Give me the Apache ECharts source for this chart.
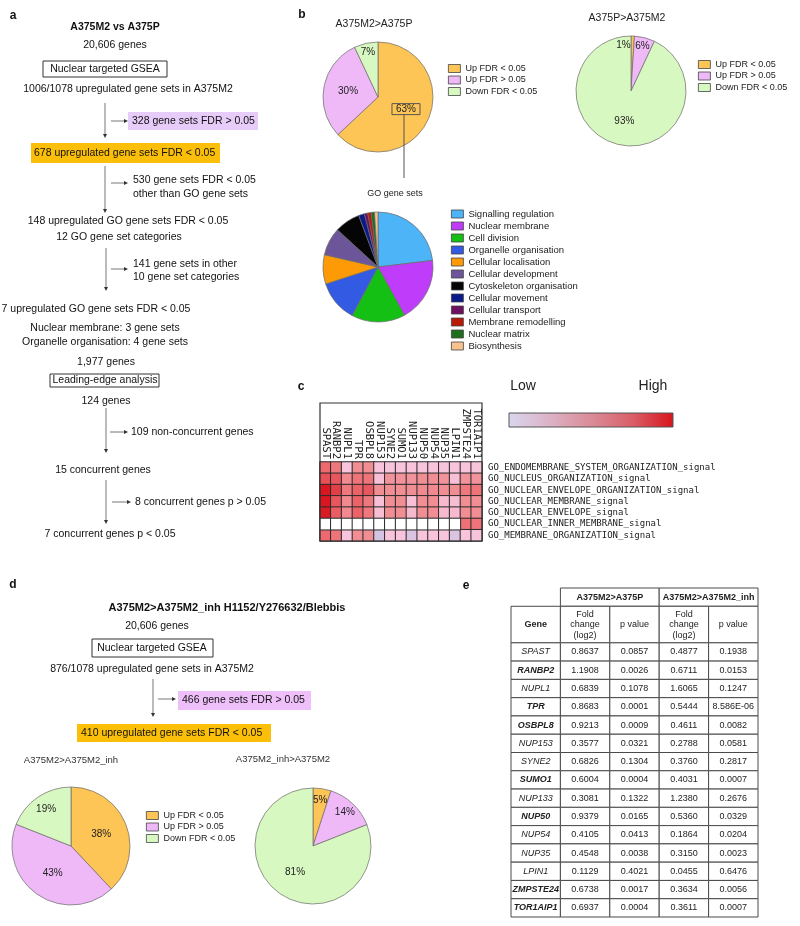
<!DOCTYPE html>
<html><head><meta charset="utf-8">
<script src="https://cdn.jsdelivr.net/npm/echarts@6/dist/echarts.min.js"></script>
<style>html,body{margin:0;padding:0;background:#fff}#c{width:800px;height:926px}</style>
</head><body><div id="c"></div>
<script>
const FONT = '"Liberation Sans", Arial, sans-serif';
const MONO = '"DejaVu Sans Mono", monospace';

// ---------- data ----------
const fdrNames = ['Up FDR < 0.05', 'Up FDR > 0.05', 'Down FDR < 0.05'];
const fdrColors = ['#fdc456', '#efb9f8', '#d8f8c1'];
const b1Values = [63, 30, 7];     // A375M2>A375P
const b2Values = [1, 6, 93];      // A375P>A375M2
const d1Values = [38, 43, 19];    // A375M2>A375M2_inh
const d2Values = [5, 14, 81];     // A375M2_inh>A375M2

const goNames = ['Signalling regulation', 'Nuclear membrane', 'Cell division', 'Organelle organisation',
  'Cellular localisation', 'Cellular development', 'Cytoskeleton organisation', 'Cellular movement',
  'Cellular transport', 'Membrane remodelling', 'Nuclear matrix', 'Biosynthesis'];
const goValues = [23.1, 18.9, 15.8, 12.2, 8.6, 8.2, 7.5, 1.7, 1, 1, 1, 1];
const goColors = ['#4db4f7', '#c03cfb', '#14c014', '#335ae2', '#fd9a06', '#6c5699', '#050505',
  '#0a1a8a', '#6e1060', '#b81a06', '#1d6e1d', '#f8c28f'];

const hmGenes = ['SPAST', 'RANBP2', 'NUPL1', 'TPR', 'OSBPL8', 'NUP153', 'SYNE2', 'SUMO1', 'NUP133',
  'NUP50', 'NUP54', 'NUP35', 'LPIN1', 'ZMPSTE24', 'TOR1AIP1'];
const hmSets = ['GO_ENDOMEMBRANE_SYSTEM_ORGANIZATION_signal', 'GO_NUCLEUS_ORGANIZATION_signal',
  'GO_NUCLEAR_ENVELOPE_ORGANIZATION_signal', 'GO_NUCLEAR_MEMBRANE_signal', 'GO_NUCLEAR_ENVELOPE_signal',
  'GO_NUCLEAR_INNER_MEMBRANE_signal', 'GO_MEMBRANE_ORGANIZATION_signal'];
const hmValues = [
  [0.70, 0.62, 0.25, 0.50, 0.50, 0.25, 0.25, 0.25, 0.25, 0.25, 0.25, 0.25, 0.25, 0.25, 0.25],
  [0.80, 0.78, 0.52, 0.64, 0.64, 0.27, 0.48, 0.48, 0.48, 0.50, 0.50, 0.48, 0.27, 0.48, 0.48],
  [0.98, 0.86, 0.62, 0.74, 0.78, 0.50, 0.50, 0.50, 0.50, 0.52, 0.52, 0.50, 0.50, 0.62, 0.64],
  [0.98, 0.78, 0.52, 0.74, 0.62, 0.27, 0.50, 0.50, 0.27, 0.50, 0.50, 0.30, 0.28, 0.50, 0.50],
  [0.97, 0.76, 0.52, 0.74, 0.62, 0.28, 0.50, 0.50, 0.30, 0.50, 0.50, 0.30, 0.30, 0.50, 0.50],
  [null, null, null, null, null, null, null, null, null, null, null, null, null, 0.66, 0.64],
  [0.70, 0.64, 0.25, 0.50, 0.50, 0.05, 0.25, 0.25, 0.10, 0.25, 0.25, 0.25, 0.10, 0.25, 0.25]
];

const tblGenes = ['SPAST', 'RANBP2', 'NUPL1', 'TPR', 'OSBPL8', 'NUP153', 'SYNE2', 'SUMO1', 'NUP133',
  'NUP50', 'NUP54', 'NUP35', 'LPIN1', 'ZMPSTE24', 'TOR1AIP1'];
const tblBold = ['RANBP2', 'TPR', 'OSBPL8', 'SUMO1', 'NUP50', 'ZMPSTE24', 'TOR1AIP1'];
const fcP = ['0.8637', '1.1908', '0.6839', '0.8683', '0.9213', '0.3577', '0.6826', '0.6004', '0.3081',
  '0.9379', '0.4105', '0.4548', '0.1129', '0.6738', '0.6937'];
const pvP = ['0.0857', '0.0026', '0.1078', '0.0001', '0.0009', '0.0321', '0.1304', '0.0004', '0.1322',
  '0.0165', '0.0413', '0.0038', '0.4021', '0.0017', '0.0004'];
const fcI = ['0.4877', '0.6711', '1.6065', '0.5444', '0.4611', '0.2788', '0.3760', '0.4031', '1.2380',
  '0.5360', '0.1864', '0.3150', '0.0455', '0.3634', '0.3611'];
const pvI = ['0.1938', '0.0153', '0.1247', '8.586E-06', '0.0082', '0.0581', '0.2817', '0.0007', '0.2676',
  '0.0329', '0.0204', '0.0023', '0.6476', '0.0056', '0.0007'];
const tblGroups = ['A375M2>A375P', 'A375M2>A375M2_inh'];
const tblSub = ['Gene', 'Fold\nchange\n(log2)', 'p value', 'Fold\nchange\n(log2)', 'p value'];

// ---------- pies ----------
const series = [];
const overlays = [];
function addPie(center, r, values, names, colors, outer, ringFrac, showLabels, special, pads) {
  pads = pads || {};
  series.push({
    type: 'pie', center: center, radius: r, startAngle: 90, clockwise: true,
    animation: false, silent: true, avoidLabelOverlap: false,
    label: { show: showLabels, position: 'inside', formatter: '{c}%', fontSize: 10, color: '#222', fontFamily: FONT },
    labelLine: { show: false },
    labelLayout: { hideOverlap: false },
    itemStyle: { borderColor: '#6a6a6a', borderWidth: 0.7 },
    emphasis: { disabled: true },
    data: values.map((v, i) => {
      const it = { name: names[i], value: v, itemStyle: { color: colors[i] } };
      if (showLabels) {
        it.label = { show: outer.indexOf(i) < 0 };
        if (special === i) {
          Object.assign(it.label, { borderColor: '#555', borderWidth: 1, padding: [1, 4, 0, 4] });
        }
      }
      return it;
    })
  });
  if (showLabels && outer.length) {
    overlays.push({
      type: 'pie', center: center, radius: [r * ringFrac, r], startAngle: 90, clockwise: true,
      animation: false, silent: true, legendHoverLink: false, avoidLabelOverlap: false,
      minShowLabelAngle: 0,
      label: { show: true, position: 'inside', formatter: '{c}%', fontSize: 10, color: '#222', fontFamily: FONT },
      labelLine: { show: false },
      labelLayout: { hideOverlap: false },
      itemStyle: { color: 'rgba(0,0,0,0)', borderWidth: 0 },
      emphasis: { disabled: true },
      data: values.map((v, i) => {
        const lab = { show: outer.indexOf(i) >= 0 };
        if (pads[i]) lab.padding = pads[i];
        return { name: names[i], value: v, label: lab };
      })
    });
  }
}
addPie([378, 97], 55, b1Values, fdrNames, fdrColors, [2], 0.56, true, 0);
addPie([631, 91], 55, b2Values, fdrNames, fdrColors, [0, 1], 0.56, true, -1, { 0: [0, 18, 0, 0] });
addPie([378, 267], 55, goValues, goNames, goColors, [], 0, false, -1);
addPie([71, 846], 59, d1Values, fdrNames, fdrColors, [2], 0.4, true, -1);
addPie([313, 846], 58, d2Values, fdrNames, fdrColors, [0, 1], 0.5, true, -1);

// ---------- heatmap ----------
const hmData = [], hmMissing = [];
hmValues.forEach((row, y) => row.forEach((v, x) => {
  if (v === null) hmMissing.push([x, y, 0]); else hmData.push([x, y, v]);
}));
const hmIndex = series.length;
series.push({
  type: 'heatmap', xAxisIndex: 0, yAxisIndex: 0, data: hmData, animation: false, silent: true,
  itemStyle: { borderColor: '#2a2a2a', borderWidth: 1 }
});
series.push({
  type: 'heatmap', xAxisIndex: 0, yAxisIndex: 0, data: hmMissing, animation: false, silent: true,
  itemStyle: { color: '#ffffff', borderColor: '#2a2a2a', borderWidth: 1 }
});

// ---------- table ----------
const cells = [];
cells.push({ c: [1, 3, 0, 1], t: tblGroups[0], w: 'bold', s: 'normal' });
cells.push({ c: [3, 5, 0, 1], t: tblGroups[1], w: 'bold', s: 'normal' });
tblSub.forEach((t, i) => cells.push({ c: [i, i + 1, 1, 3], t: t, w: i === 0 ? 'bold' : 'normal', s: 'normal' }));
tblGenes.forEach((g, r) => {
  const row = r + 3;
  const b = tblBold.indexOf(g) >= 0;
  cells.push({ c: [0, 1, row, row + 1], t: g, w: b ? 'bold' : 'normal', s: 'italic' });
  [fcP[r], pvP[r], fcI[r], pvI[r]].forEach((t, j) =>
    cells.push({ c: [j + 1, j + 2, row, row + 1], t: t, w: 'normal', s: 'normal' }));
});
series.push({
  type: 'custom', xAxisIndex: 1, yAxisIndex: 1, animation: false, silent: true,
  encode: { x: [0, 1], y: [2, 3] },
  data: cells.map(c => c.c),
  renderItem: function (params, api) {
    const cell = cells[params.dataIndex];
    const p0 = api.coord([api.value(0), api.value(2)]);
    const p1 = api.coord([api.value(1), api.value(3)]);
    const font = cell.s + ' ' + cell.w + ' 9px ' + FONT;
    return {
      type: 'group', children: [
        { type: 'rect', shape: { x: p0[0], y: p0[1], width: p1[0] - p0[0], height: p1[1] - p0[1] },
          style: { fill: '#fff', stroke: '#4a4a4a', lineWidth: 1 } },
        { type: 'text', style: { text: cell.t, x: (p0[0] + p1[0]) / 2, y: (p0[1] + p1[1]) / 2,
          align: 'center', verticalAlign: 'middle', textAlign: 'center', textVerticalAlign: 'middle',
          font: font, fill: '#222', lineHeight: 10.5 } }
      ]
    };
  }
});

series.push(...overlays);

// ---------- graphic (flowcharts / annotations) ----------
const G = [];
const TXT = '#111';
function txt(x, y, text, opt) {
  opt = opt || {};
  const size = opt.size || 10.5;
  const weight = opt.bold ? 'bold ' : '';
  G.push({ type: 'text', x: x, y: y, z: 100, silent: true, style: {
    text: text, fill: opt.color || TXT, font: weight + size + 'px ' + (opt.family || FONT),
    align: opt.align || 'center', textAlign: opt.align || 'center',
    verticalAlign: 'middle', textVerticalAlign: 'middle' } });
}
function box(x, y, w, h, fill, stroke) {
  G.push({ type: 'rect', z: 90, silent: true, shape: { x: x, y: y, width: w, height: h },
    style: { fill: fill || 'none', stroke: stroke || null, lineWidth: 1 } });
}
function line(x1, y1, x2, y2, color) {
  G.push({ type: 'line', z: 95, silent: true, shape: { x1: x1, y1: y1, x2: x2, y2: y2 },
    style: { stroke: color || '#777', lineWidth: 1 } });
}
function arrowV(x, y1, y2) {
  line(x, y1, x, y2 - 3);
  G.push({ type: 'polygon', z: 95, silent: true, shape: { points: [[x - 2, y2 - 4], [x + 2, y2 - 4], [x, y2]] }, style: { fill: '#333' } });
}
function arrowH(x1, x2, y) {
  line(x1, y, x2 - 3, y);
  G.push({ type: 'polygon', z: 95, silent: true, shape: { points: [[x2 - 4, y - 2], [x2 - 4, y + 2], [x2, y]] }, style: { fill: '#333' } });
}

// panel letters
txt(13, 16, 'a', { bold: true, size: 12 });
txt(302, 15, 'b', { bold: true, size: 12 });
txt(301, 387, 'c', { bold: true, size: 12 });
txt(13, 585, 'd', { bold: true, size: 12 });
txt(466, 586, 'e', { bold: true, size: 12 });

// panel a
txt(115, 27, 'A375M2 vs A375P', { bold: true });
txt(115, 45, '20,606 genes');
box(43, 61, 124, 16, '#fff', '#333');
txt(105, 69, 'Nuclear targeted GSEA');
txt(128, 89, '1006/1078 upregulated gene sets in A375M2');
arrowV(105, 103, 138);
arrowH(111, 128, 121);
box(128, 112, 130, 18, '#e7cbf8');
txt(132, 121, '328 gene sets FDR > 0.05', { align: 'left' });
box(31, 143, 189, 20, '#fbbf0a');
txt(34, 153, '678 upregulated gene sets FDR < 0.05', { align: 'left' });
arrowV(105, 166, 213);
arrowH(111, 128, 183);
txt(133, 180, '530 gene sets FDR < 0.05', { align: 'left' });
txt(133, 194, 'other than GO gene sets', { align: 'left' });
txt(128, 221, '148 upregulated GO gene sets FDR < 0.05');
txt(119, 237, '12 GO gene set categories');
arrowV(106, 248, 291);
arrowH(111, 128, 269);
txt(133, 264, '141 gene sets in other', { align: 'left' });
txt(133, 277, '10 gene set categories', { align: 'left' });
txt(96, 309, '7 upregulated GO gene sets FDR < 0.05');
txt(105, 328, 'Nuclear membrane: 3 gene sets');
txt(105, 342, 'Organelle organisation: 4 gene sets');
txt(106, 362, '1,977 genes');
box(50, 374, 109, 13, '#fff', '#333');
txt(105, 380.5, 'Leading-edge analysis');
txt(106, 401, '124 genes');
arrowV(106, 408, 453);
arrowH(110, 128, 432);
txt(131, 432, '109 non-concurrent genes', { align: 'left' });
txt(103, 470, '15 concurrent genes');
arrowV(106, 480, 524);
arrowH(112, 131, 502);
txt(135, 502, '8 concurrent genes p > 0.05', { align: 'left' });
txt(110, 534, '7 concurrent genes p < 0.05');

// panel b
txt(374, 24, 'A375M2>A375P', { size: 10.5, color: '#222' });
txt(627, 18, 'A375P>A375M2', { size: 10.5, color: '#222' });
line(404, 114, 404, 178, '#555');
txt(395, 194, 'GO gene sets', { size: 9, color: '#222' });

// panel c
txt(523, 386, 'Low', { size: 14, color: '#222' });
txt(653, 386, 'High', { size: 14, color: '#222' });
G.push({ type: 'rect', z: 90, silent: true, shape: { x: 509, y: 413, width: 164, height: 14 },
  style: { stroke: '#555', lineWidth: 1,
    fill: { type: 'linear', x: 0, y: 0, x2: 1, y2: 0, colorStops: [
      { offset: 0, color: '#d9d7ef' }, { offset: 0.25, color: '#dcb2c6' }, { offset: 0.5, color: '#da8b98' },
      { offset: 0.75, color: '#d95f69' }, { offset: 1, color: '#d8141c' }] } } });
G.push({ type: 'rect', z: 100, silent: true, shape: { x: 320, y: 403, width: 162, height: 138 },
  style: { fill: 'none', stroke: '#333', lineWidth: 1.2 } });

// panel d
txt(227, 608, 'A375M2>A375M2_inh H1152/Y276632/Blebbis', { bold: true, size: 11 });
txt(157, 626, '20,606 genes');
box(92, 639, 121, 18, '#fff', '#333');
txt(152, 648, 'Nuclear targeted GSEA');
txt(152, 669, '876/1078 upregulated gene sets in A375M2');
arrowV(153, 679, 717);
arrowH(158, 176, 699);
box(178, 691, 133, 19, '#efbff9');
txt(182, 700.5, '466 gene sets FDR > 0.05', { align: 'left' });
box(77, 724, 194, 18, '#fbbf0a');
txt(81, 733, '410 upregulated gene sets FDR < 0.05', { align: 'left' });
txt(71, 760, 'A375M2>A375M2_inh', { size: 9.5, color: '#333' });
txt(283, 759, 'A375M2_inh>A375M2', { size: 9.5, color: '#333' });

// ---------- legends ----------
const legendCommon = {
  orient: 'vertical', icon: 'rect', itemWidth: 12, itemHeight: 8, itemGap: 2.5, padding: 0,
  itemTextGap: 6, selectedMode: false,
  itemStyle: { borderColor: '#444', borderWidth: 0.8 },
  textStyle: { fontSize: 9, fontFamily: FONT, color: '#222', lineHeight: 9 }
};

const chart = echarts.init(document.getElementById('c'), null, { renderer: 'canvas' });
chart.setOption({
  backgroundColor: '#fff',
  animation: false,
  legend: [
    Object.assign({}, legendCommon, { data: fdrNames, left: 448, top: 64 }),
    Object.assign({}, legendCommon, { data: fdrNames, left: 698, top: 60 }),
    Object.assign({}, legendCommon, { data: goNames, left: 451, top: 209, itemGap: 2,
      textStyle: { fontSize: 9.5, fontFamily: FONT, color: '#222', lineHeight: 9 } }),
    Object.assign({}, legendCommon, { data: fdrNames, left: 146, top: 811 })
  ],
  grid: [
    { left: 320, top: 462, width: 162, height: 79, containLabel: false },
    { left: 511, top: 588, width: 247, height: 329, containLabel: false }
  ],
  xAxis: [
    { type: 'category', gridIndex: 0, position: 'top', data: hmGenes,
      axisLine: { show: false }, axisTick: { show: false }, splitLine: { show: false },
      axisLabel: { rotate: 90, interval: 0, fontFamily: MONO, fontSize: 10.5, color: '#222', margin: 3 } },
    { type: 'value', gridIndex: 1, min: 0, max: 5, show: false }
  ],
  yAxis: [
    { type: 'category', gridIndex: 0, position: 'right', inverse: true, data: hmSets,
      axisLine: { show: false }, axisTick: { show: false }, splitLine: { show: false },
      axisLabel: { interval: 0, fontFamily: MONO, fontSize: 9, color: '#222', margin: 6 } },
    { type: 'value', gridIndex: 1, min: 0, max: 18, inverse: true, show: false }
  ],
  visualMap: {
    show: false, type: 'continuous', min: 0, max: 1, seriesIndex: hmIndex, dimension: 2,
    inRange: { color: ['#c8c4e4', '#f8c4dc', '#f18e94', '#ec6066', '#d8101a'] }
  },
  graphic: { elements: G },
  series: series
});
</script>
</body></html>
